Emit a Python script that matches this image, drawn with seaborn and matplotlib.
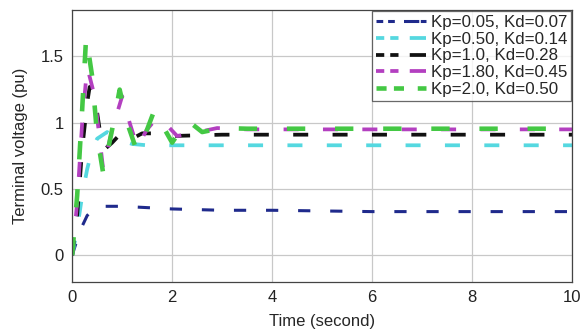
import numpy as np
import pandas as pd
import seaborn as sns
import matplotlib
matplotlib.use("Agg")
import matplotlib.pyplot as plt

# values
labels = ["Kp=0.05, Kd=0.07", "Kp=0.50, Kd=0.14", "Kp=1.0, Kd=0.28",
          "Kp=1.80, Kd=0.45", "Kp=2.0, Kd=0.50"]
colors = ["#1f2a8c", "#55d8e0", "#111111", "#b33fc0", "#44c844"]

t_blue = [0, 0.1, 0.2, 0.3, 0.4, 0.6, 0.8, 1.0, 1.5, 2, 3, 4, 6, 8, 10]
v_blue = [0, 0.12, 0.22, 0.3, 0.34, 0.37, 0.37, 0.37, 0.36, 0.35, 0.34, 0.34, 0.33, 0.33, 0.33]

t_cyan = [0, 0.1, 0.2, 0.3, 0.4, 0.5, 0.7, 0.9, 1.2, 1.5, 2, 3, 10]
v_cyan = [0, 0.2, 0.45, 0.65, 0.8, 0.88, 0.93, 0.88, 0.84, 0.83, 0.83, 0.83, 0.83]

t_black = [0, 0.1, 0.2, 0.3, 0.35, 0.45, 0.55, 0.65, 0.8, 1.0, 1.2, 1.4, 1.6, 2, 3, 10]
v_black = [0, 0.3, 0.8, 1.15, 1.27, 1.2, 0.95, 0.8, 0.85, 0.93, 0.88, 0.92, 0.92, 0.9, 0.91, 0.91]

t_mag = [0, 0.1, 0.2, 0.3, 0.45, 0.62, 0.8, 1.0, 1.15, 1.3, 1.5, 1.7, 1.9, 2.1, 2.4, 2.9, 3.5, 10]
v_mag = [0, 0.4, 1.0, 1.42, 1.2, 0.65, 0.95, 1.2, 1.0, 0.82, 0.95, 1.04, 0.98, 0.9, 0.92, 0.96, 0.95, 0.95]

t_green = [0, 0.1, 0.2, 0.28, 0.4, 0.5, 0.62, 0.8, 0.95, 1.1, 1.3, 1.5, 1.65, 1.85, 2.0, 2.3, 2.6, 3.0, 3.5, 10]
v_green = [0, 0.45, 1.1, 1.65, 1.35, 0.9, 0.62, 0.95, 1.25, 1.0, 0.78, 0.95, 1.1, 0.95, 0.85, 1.02, 0.93, 0.96, 0.955, 0.955]

series_t = [t_blue, t_cyan, t_black, t_mag, t_green]
series_v = [v_blue, v_cyan, v_black, v_mag, v_green]
widths = [2.2, 2.7, 2.7, 2.7, 3.3]

sns.set_style("whitegrid")
plt.rcParams['font.family'] = ['Liberation Sans', 'DejaVu Sans']

fig = plt.figure(figsize=(5.82, 3.34), dpi=100)
ax = fig.add_axes([0.124, 0.156, 0.859, 0.814])

for lab, col, tt, vv, lw in zip(labels, colors, series_t, series_v, widths):
    df = pd.DataFrame({"t": tt, "v": vv})
    sns.lineplot(data=df, x="t", y="v", ax=ax, color=col, linewidth=lw,
                 linestyle=(0, (4.0, 6.5)), label=lab)

ax.set_xlim(0, 10)
ax.set_ylim(-0.2, 1.85)
ax.set_xticks([0, 2, 4, 6, 8, 10])
ax.set_yticks([0, 0.5, 1, 1.5])
ax.set_yticklabels(["0", "0.5", "1", "1.5"])
ax.grid(True, color="#c8c8c8", linewidth=0.9)
for s in ax.spines.values():
    s.set_color("#444444")
    s.set_linewidth(0.9)
ax.tick_params(labelsize=12, colors="#222222", length=0, pad=6)
ax.set_xlabel("Time (second)", fontsize=12, labelpad=6)
ax.set_ylabel("Terminal voltage (pu)", fontsize=12, labelpad=9)

leg = ax.legend(loc="upper right", fontsize=12.2, frameon=True, fancybox=False,
                handlelength=2.9, handletextpad=0.3, labelspacing=0.1,
                borderpad=0.25, borderaxespad=0.05)
leg.get_frame().set_edgecolor("#444444")
leg.get_frame().set_linewidth(0.9)
for h in leg.get_lines():
    h.set_linestyle((0, (2.2, 1.6, 2.2, 3.0, 5.0, 0.5)))

fig.savefig("out.png", dpi=100)
